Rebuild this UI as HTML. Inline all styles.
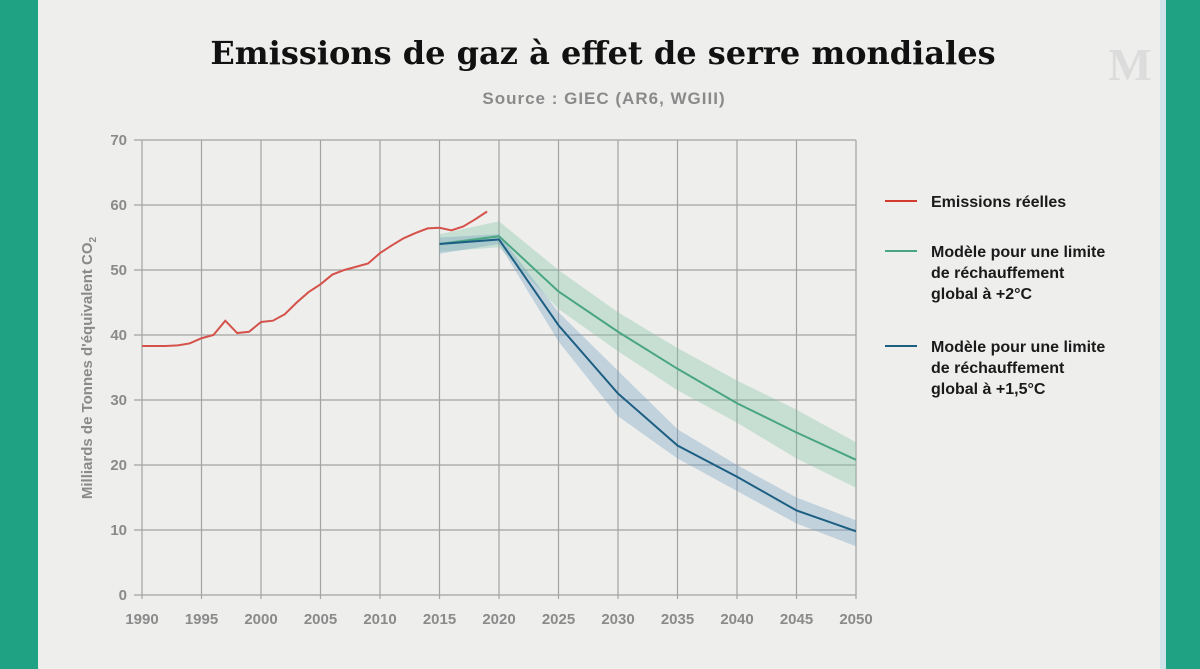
<!DOCTYPE html>
<html><head><meta charset="utf-8"><style>
body{margin:0;width:1200px;height:669px;overflow:hidden;background:#1fa184;font-family:"Liberation Sans",sans-serif;}
#paper{position:absolute;left:38px;top:0;width:1122px;height:669px;background:#eeeeed;}
#edge{position:absolute;left:1160px;top:0;width:6px;height:669px;background:#cfe3ea;}
</style></head><body>
<div id="paper"></div>
<div id="edge"></div>
<svg width="1200" height="669" style="position:absolute;left:0;top:0" id="chart">
<text x="603" y="64" text-anchor="middle" font-family="DejaVu Serif,serif" font-weight="bold" font-size="32" fill="#111">Emissions de gaz à effet de serre mondiales</text>
<text x="604" y="104" text-anchor="middle" font-size="17" font-weight="bold" letter-spacing="1" fill="#8a8a8a">Source : GIEC (AR6, WGIII)</text>
<text x="1130" y="80" text-anchor="middle" font-family="Liberation Serif,serif" font-size="46" font-weight="bold" fill="#dcdcdc">M</text>
<g id="grid"></g><g id="bands"></g><g id="lines"></g><g id="labels"></g>
<text transform="translate(92,368) rotate(-90)" text-anchor="middle" font-size="15" font-weight="bold" fill="#8a8a8a">Milliards de Tonnes d'équivalent CO<tspan font-size="10" dy="4">2</tspan></text>
<g font-size="16" font-weight="bold" fill="#1a1a1a">
<line x1="885" y1="201" x2="917" y2="201" stroke="#d33b30" stroke-width="2"/>
<text x="931" y="207">Emissions réelles</text>
<line x1="885" y1="251" x2="917" y2="251" stroke="#4aa583" stroke-width="2"/>
<text x="931" y="257"><tspan x="931">Modèle pour une limite</tspan><tspan x="931" dy="21">de réchauffement</tspan><tspan x="931" dy="21">global à +2°C</tspan></text>
<line x1="885" y1="346" x2="917" y2="346" stroke="#1d5f83" stroke-width="2"/>
<text x="931" y="352"><tspan x="931">Modèle pour une limite</tspan><tspan x="931" dy="21">de réchauffement</tspan><tspan x="931" dy="21">global à +1,5°C</tspan></text>
</g>
</svg>
<script>
const xTicks=[1990,1995,2000,2005,2010,2015,2020,2025,2030,2035,2040,2045,2050];
const yTicks=[0,10,20,30,40,50,60,70];
const realYears=[1990,1991,1992,1993,1994,1995,1996,1997,1998,1999,2000,2001,2002,2003,2004,2005,2006,2007,2008,2009,2010,2011,2012,2013,2014,2015,2016,2017,2018,2019];
const realValues=[38.3,38.3,38.3,38.4,38.7,39.5,40.0,42.2,40.3,40.5,42.0,42.2,43.2,45.0,46.6,47.8,49.3,50.0,50.5,51.0,52.6,53.8,54.9,55.7,56.4,56.5,56.1,56.7,57.8,59.0];
const modelYears=[2015,2020,2025,2030,2035,2040,2045,2050];
const mid2=[54.0,55.2,46.7,40.5,34.8,29.5,25.0,20.8];
const hi2=[55.5,57.5,50.0,43.5,38.0,33.0,28.5,23.5];
const lo2=[52.8,53.5,44.0,37.5,31.5,26.5,21.0,16.5];
const mid15=[54.0,54.7,41.5,31.0,23.0,18.2,13.0,9.8];
const hi15=[55.0,55.5,43.5,34.5,25.5,20.0,15.0,11.5];
const lo15=[52.5,54.0,39.0,27.5,21.0,16.0,11.0,7.5];
const X=y=>142+(y-1990)*(714/60);
const Y=v=>595-v*6.5;
const NS="http://www.w3.org/2000/svg";
function mk(tag,parent,attrs){const e=document.createElementNS(NS,tag);for(const k in attrs)e.setAttribute(k,attrs[k]);document.getElementById(parent).appendChild(e);return e;}
xTicks.forEach(t=>{
 const l=mk('line','grid',{x1:X(t),x2:X(t),y1:Y(70),y2:Y(0)+4,stroke:'#a3a3a3','stroke-width':1.2});
 
 
 const tx=mk('text','labels',{x:X(t),y:624,'text-anchor':'middle','font-size':15,fill:'#8a8a8a','font-weight':'bold'});tx.textContent=t;
 
 
});
yTicks.forEach(t=>{
 const l=mk('line','grid',{x1:X(1990)-8,x2:X(2050),y1:Y(t),y2:Y(t),stroke:'#a3a3a3','stroke-width':1.2});
 
 
 const tx=mk('text','labels',{x:127,y:Y(t)+5,'text-anchor':'end','font-size':15,fill:'#8a8a8a','font-weight':'bold'});tx.textContent=t;
 
 
});
function band(hi,lo,fill,name){
 let d='M'+modelYears.map((y,i)=>X(y)+','+Y(hi[i])).join('L');
 d+='L'+modelYears.slice().reverse().map((y,i)=>X(y)+','+Y(lo[lo.length-1-i])).join('L')+'Z';
 const p=mk('path','bands',{d:d,fill:fill,'fill-opacity':0.35});
 
 
}
band(hi2,lo2,'#7fc4a3','band-2c');
band(hi15,lo15,'#6f9ec0','band-15c');
function line(xs,vs,color,name){
 const p=mk('polyline','lines',{points:xs.map((y,i)=>X(y)+','+Y(vs[i])).join(' '),fill:'none',stroke:color,'stroke-width':2});
 
 
}
line(modelYears,mid2,'#4aa583','line-2c');
line(modelYears,mid15,'#1d5f83','line-15c');
line(realYears,realValues,'#d4524a','line-real-emissions');
</script>
</body></html>
